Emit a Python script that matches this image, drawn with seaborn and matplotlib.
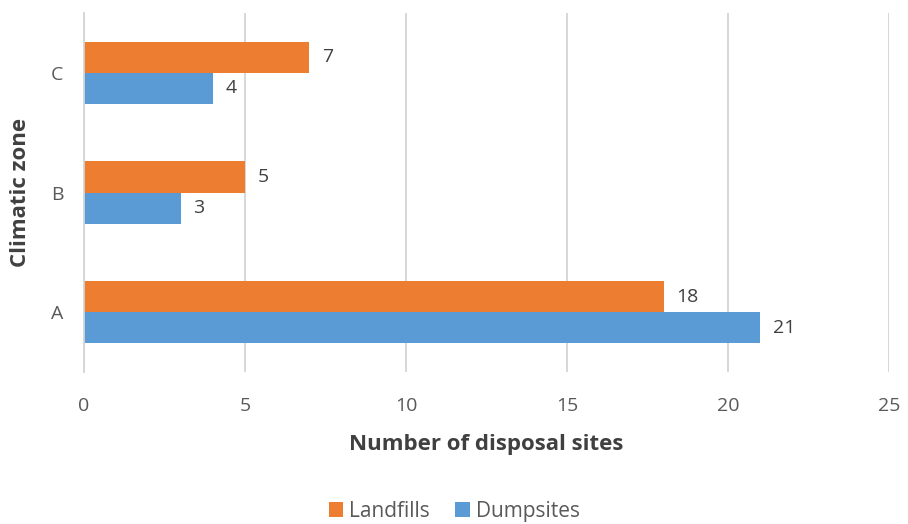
import pandas as pd
import matplotlib
matplotlib.use("Agg")
import matplotlib.pyplot as plt
import seaborn as sns

# Data
zones = ["C", "B", "A"]
landfills = [7, 5, 18]
dumpsites = [4, 3, 21]
series = ["Landfills", "Dumpsites"]
colors = ["#ED7D31", "#5B9BD5"]

data = pd.DataFrame({
    "zone": zones * 2,
    "count": landfills + dumpsites,
    "type": [series[0]] * len(zones) + [series[1]] * len(zones),
})

sns.set_style("white")
plt.rcParams["font.family"] = ["Open Sans", "DejaVu Sans"]

fig = plt.figure(figsize=(9.08, 5.24), dpi=100)
ax = fig.add_axes([0.0925, 0.29, 0.8865, 0.685])

sns.barplot(data=data, x="count", y="zone", hue="type", order=zones,
            hue_order=series, palette=colors, orient="h", width=0.52,
            saturation=1, linewidth=0, ax=ax, legend=True)

for c in ax.containers:
    ax.bar_label(c, padding=9, fontsize=14, color="#404040")

ax.set_xlim(0, 25)
ax.set_ylim(2.5, -0.5)
ax.set_xticks(range(0, 26, 5))
ax.grid(axis="x", color="#d4d4d4", linewidth=1.3)
ax.set_axisbelow(True)
for s in ["top", "right", "bottom"]:
    ax.spines[s].set_visible(False)
ax.spines["left"].set_color("#d4d4d4")
ax.spines["left"].set_linewidth(1.3)
ax.tick_params(axis="x", length=0, labelsize=14, labelcolor="#595959", pad=18)
ax.tick_params(axis="y", length=0, labelsize=14, labelcolor="#595959", pad=15)

ax.set_xlabel("Number of disposal sites", fontsize=16, fontweight="bold",
              color="#404040", labelpad=14)
ax.set_ylabel("Climatic zone", fontsize=16, fontweight="bold",
              color="#404040", labelpad=14)

ax.legend(loc="lower center", bbox_to_anchor=(0.46, -0.47), ncol=2,
          frameon=False, fontsize=15, handlelength=0.7, handleheight=0.7,
          columnspacing=1.2, handletextpad=0.3, labelcolor="#595959")

plt.savefig("out.png", dpi=100)
